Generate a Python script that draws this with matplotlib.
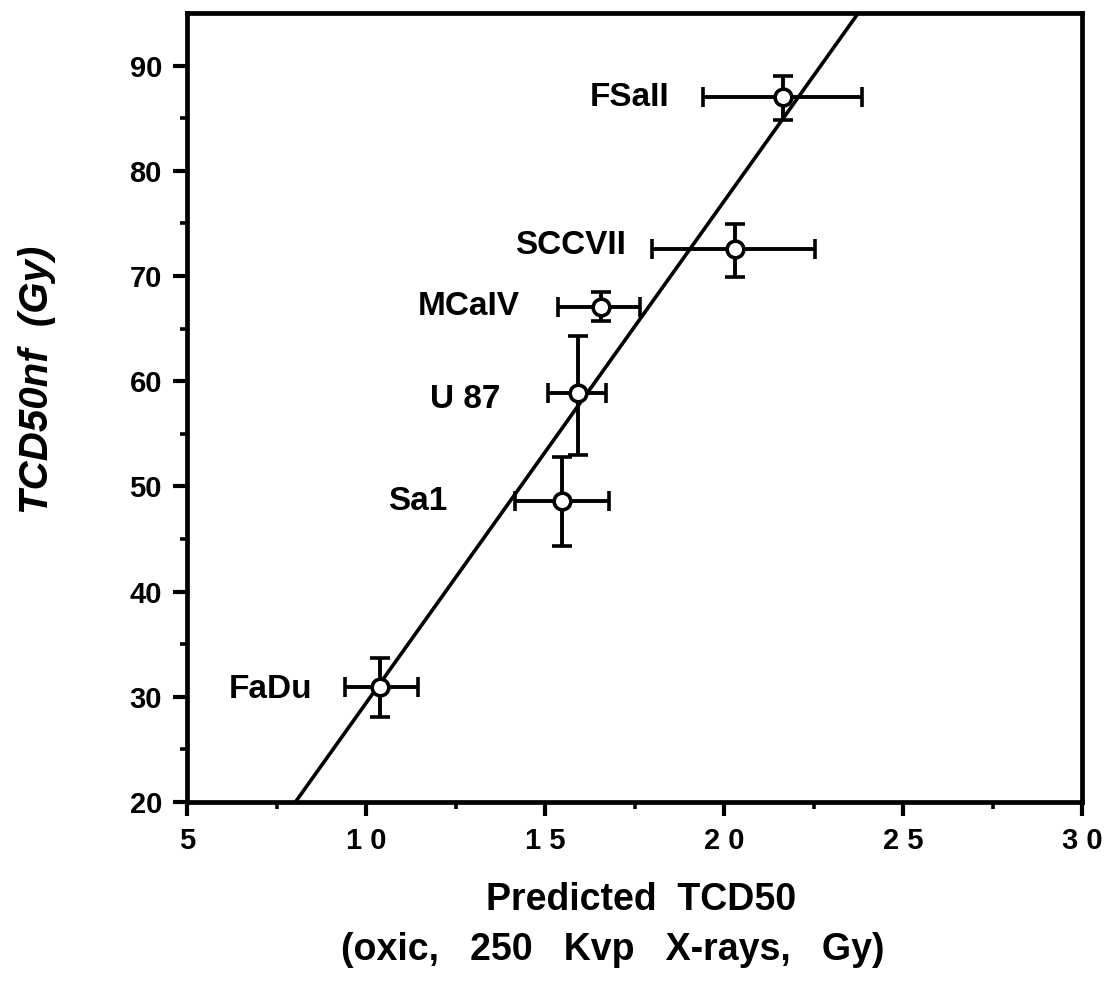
import matplotlib
matplotlib.use("Agg")
import matplotlib.pyplot as plt
import numpy as np

plt.rcParams['font.family'] = ['Liberation Sans', 'DejaVu Sans']

# Data
cell_lines = ["FSaII", "SCCVII", "MCaIV", "U 87", "Sa1", "FaDu"]
predicted_tcd50 = [21.65, 20.3, 16.56, 15.92, 15.47, 10.39]
x_err_low = [2.25, 2.3, 1.2, 0.84, 1.31, 0.98]
x_err_high = [2.2, 2.25, 1.09, 0.78, 1.33, 1.06]
tcd50nf = [87.0, 72.6, 67.1, 58.9, 48.6, 30.9]
y_err_low = [2.2, 2.7, 1.4, 5.9, 4.3, 2.8]
y_err_high = [2.0, 2.3, 1.4, 5.4, 4.2, 2.8]

fit_slope = 4.77
fit_intercept = -18.3

x_ticks = [5, 10, 15, 20, 25, 30]
x_tick_labels = ["5", "1 0", "1 5", "2 0", "2 5", "3 0"]
y_ticks = [20, 30, 40, 50, 60, 70, 80, 90]
y_tick_labels = ["20", "30", "40", "50", "60", "70", "80", "90"]

W, H = 1115, 989
fig = plt.figure(figsize=(W / 100, H / 100), dpi=100)
ax = fig.add_axes([187 / W, 1 - 802 / H, (1082 - 187) / W, (802 - 13) / H])

ax.set_xlim(5, 30)
ax.set_ylim(20, 95)

# regression line
xl = np.linspace(5, 30, 200)
ax.plot(xl, fit_slope * xl + fit_intercept, color="black", lw=2.6, zorder=2)

# error bars and points
ax.errorbar(predicted_tcd50, tcd50nf,
            xerr=[x_err_low, x_err_high], yerr=[y_err_low, y_err_high],
            fmt="o", color="black", mfc="white", mec="black", mew=2.6,
            ms=12, elinewidth=2.8, capsize=7, capthick=2.6, zorder=3)

# labels next to points (right-aligned, left of each error bar)
label_offsets = [-0.92, -0.75, -1.06, -1.34, -1.9, -0.92]
label_dy = [0.0, 0.3, 0.0, -0.6, 0.0, -0.2]
for name, x, xlo, y, off, dy in zip(cell_lines, predicted_tcd50, x_err_low,
                                    tcd50nf, label_offsets, label_dy):
    ax.text(x - xlo + off, y + dy, name, ha="right", va="center",
            fontsize=24, fontweight="bold")

ax.set_xticks(x_ticks)
ax.set_xticklabels(x_tick_labels)
ax.set_yticks(y_ticks)
ax.set_yticklabels(y_tick_labels)
ax.set_xticks(np.arange(7.5, 30, 5), minor=True)
ax.set_yticks(np.arange(25, 95, 10), minor=True)

ax.tick_params(axis="both", which="major", direction="out", length=10,
               width=3, labelsize=21, pad=8)
ax.tick_params(axis="both", which="minor", direction="out", length=5, width=2.6)
for lab in ax.get_xticklabels() + ax.get_yticklabels():
    lab.set_fontweight("bold")

for s in ax.spines.values():
    s.set_linewidth(3.4)

fig.text(641 / W, 1 - 900 / H, "Predicted  TCD50", ha="center", va="center",
         fontsize=27, fontweight="bold")
fig.text(613 / W, 1 - 950 / H, "(oxic,   250   Kvp   X-rays,   Gy)", ha="center",
         va="center", fontsize=27, fontweight="bold")
fig.text(37 / W, 1 - 380 / H, "TCD50nf  (Gy)", ha="center", va="center",
         rotation=90, fontsize=29, fontweight="bold", fontstyle="italic")

fig.savefig("out.png", dpi=100)
